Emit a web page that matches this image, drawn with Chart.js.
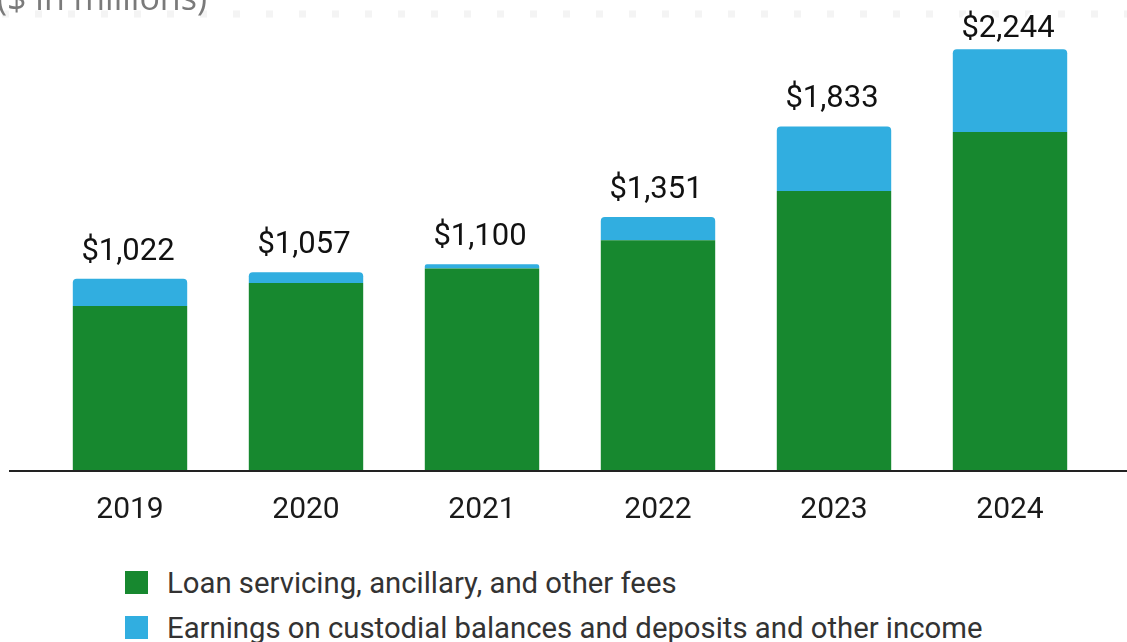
<!DOCTYPE html>
<html>
<head>
<meta charset="utf-8">
<script src="https://cdn.jsdelivr.net/npm/chart.js@4"></script>
<style>
  html, body { margin: 0; padding: 0; background: #fff; }
  #wrap { position: relative; width: 1127px; height: 642px; overflow: hidden; }
  #chart-box { position: absolute; left: 0; top: 0; width: 1127px; height: 560px; }
  #legend { position: absolute; left: 125px; top: 560px; margin: 0; padding: 0; list-style: none;
            font-family: Roboto, sans-serif; font-size: 29.3px; color: #333; }
  #legend li { display: flex; align-items: center; height: 45px; white-space: nowrap; }
  #legend span.box { display: inline-block; width: 23px; height: 23px; margin-right: 19px; flex: none; }
</style>
</head>
<body>
<div id="wrap">
  <div id="chart-box"><canvas id="revenue"></canvas></div>
  <ul id="legend"></ul>
</div>
<script>
const years = ['2019', '2020', '2021', '2022', '2023', '2024'];
const servicingFees = [877, 1000, 1077, 1228, 1489, 1803];
const custodialEarnings = [145, 57, 23, 123, 344, 441];
const seriesNames = [
  'Loan servicing, ancillary, and other fees',
  'Earnings on custodial balances and deposits and other income'
];
const unitsNote = '($ in millions)';

const green = '#17882f';
const blue = '#31aee0';

// totals on top of each stack, with a white halo behind the digits
const totalLabels = {
  id: 'totalLabels',
  afterDatasetsDraw(chart) {
    const ctx = chart.ctx;
    const top = chart.getDatasetMeta(1);
    ctx.save();
    ctx.font = '31px Roboto';
    ctx.textAlign = 'center';
    ctx.textBaseline = 'alphabetic';
    ctx.lineJoin = 'round';
    top.data.forEach((bar, i) => {
      const total = servicingFees[i] + custodialEarnings[i];
      const txt = '$' + total.toLocaleString('en-US');
      const y = Math.max(bar.y - 19, 37);
      ctx.strokeStyle = '#fff';
      ctx.lineWidth = 5;
      ctx.strokeText(txt, bar.x - 2, y);
      ctx.fillStyle = '#111';
      ctx.fillText(txt, bar.x - 2, y);
    });
    ctx.restore();
  }
};

// dotted rule, units note and the baseline
const frame = {
  id: 'frame',
  beforeDatasetsDraw(chart) {
    const ctx = chart.ctx;
    ctx.save();
    ctx.strokeStyle = '#f4f4f4';
    ctx.lineWidth = 7;
    ctx.setLineDash([7, 26]);
    ctx.beginPath();
    ctx.moveTo(2, 14);
    ctx.lineTo(chart.width, 14);
    ctx.stroke();
    ctx.setLineDash([]);
    ctx.font = '34px "Open Sans"';
    ctx.fillStyle = '#7a7a7a';
    ctx.textBaseline = 'alphabetic';
    ctx.fillText(unitsNote, -3, 10);
    ctx.restore();
  },
  afterDatasetsDraw(chart) {
    const ctx = chart.ctx;
    const y = chart.scales.y.getPixelForValue(0);
    ctx.save();
    ctx.strokeStyle = '#222';
    ctx.lineWidth = 2;
    ctx.beginPath();
    ctx.moveTo(9, y);
    ctx.lineTo(chart.width, y);
    ctx.stroke();
    ctx.restore();
  }
};

const chart = new Chart(document.getElementById('revenue'), {
  type: 'bar',
  data: {
    labels: years,
    datasets: [
      { label: seriesNames[0], data: servicingFees, backgroundColor: green, borderRadius: 0 },
      { label: seriesNames[1], data: custodialEarnings, backgroundColor: blue,
        borderRadius: { topLeft: 4, topRight: 4, bottomLeft: 0, bottomRight: 0 }, borderSkipped: false }
    ]
  },
  options: {
    responsive: true,
    maintainAspectRatio: false,
    animation: false,
    layout: { padding: { left: 42, right: 29, top: 1, bottom: 0 } },
    datasets: { bar: { barPercentage: 0.65, categoryPercentage: 1 } },
    plugins: { legend: { display: false }, tooltip: { enabled: false } },
    scales: {
      x: {
        stacked: true,
        grid: { display: false, drawTicks: false },
        border: { display: false },
        ticks: { font: { family: 'Roboto', size: 30 }, color: '#1a1a1a', padding: 21 },
        afterFit(s) { s.height = 89; }
      },
      y: {
        stacked: true,
        display: false,
        min: 0,
        max: 2500
      }
    }
  },
  plugins: [frame, totalLabels]
});

const legend = document.getElementById('legend');
chart.data.datasets.forEach(ds => {
  const li = document.createElement('li');
  li.innerHTML = '<span class="box" style="background:' + ds.backgroundColor + '"></span>' + ds.label;
  legend.appendChild(li);
});
</script>
</body>
</html>
